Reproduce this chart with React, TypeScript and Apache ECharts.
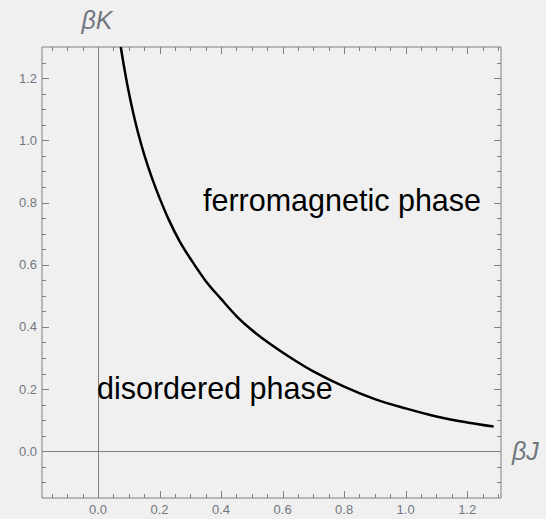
import React, { useEffect, useRef } from "react";
import * as echarts from "echarts";

// Critical line (βJ, βK)
const betaJ = [0.074, 0.085, 0.098, 0.114, 0.13, 0.15, 0.175, 0.2, 0.23, 0.265, 0.3, 0.35, 0.4, 0.45, 0.5, 0.56, 0.62, 0.7, 0.8, 0.9, 1.0, 1.1, 1.2, 1.286];
const betaK = [1.3, 1.235, 1.165, 1.09, 1.025, 0.955, 0.88, 0.815, 0.745, 0.676, 0.62, 0.548, 0.49, 0.435, 0.39, 0.345, 0.305, 0.257, 0.208, 0.168, 0.138, 0.112, 0.093, 0.08];

const majorTicks = [0, 0.2, 0.4, 0.6, 0.8, 1.0, 1.2];
const minorTicksX = [-0.15, -0.1, -0.05, 0, 0.05, 0.1, 0.15, 0.2, 0.25, 0.3, 0.35, 0.4, 0.45, 0.5, 0.55, 0.6, 0.65, 0.7, 0.75, 0.8, 0.85, 0.9, 0.95, 1.0, 1.05, 1.1, 1.15, 1.2, 1.25, 1.3];
const minorTicksY = [-0.1, -0.05, 0, 0.05, 0.1, 0.15, 0.2, 0.25, 0.3, 0.35, 0.4, 0.45, 0.5, 0.55, 0.6, 0.65, 0.7, 0.75, 0.8, 0.85, 0.9, 0.95, 1.0, 1.05, 1.1, 1.15, 1.2, 1.25];

const xLabel = "βJ";
const yLabel = "βK";
const phaseLabels = ["disordered phase", "ferromagnetic phase"];

const FRAME = "#808080";
const LABEL = "#737780";
const FONT = '"Liberation Sans", Arial, sans-serif';
const MAJOR_LEN = 7;
const MINOR_LEN = 4;

function axisOpt(min: number, max: number) {
  return {
    type: "value",
    min,
    max,
    axisLine: { show: false, onZero: false },
    splitLine: { show: false },
    axisTick: { show: false },
    axisLabel: {
      show: true,
      customValues: majorTicks,
      formatter: (v: number) => v.toFixed(1),
      color: LABEL,
      fontSize: 13,
      fontFamily: FONT,
      margin: 5,
    },
  };
}

export default function App() {
  const ref = useRef<HTMLDivElement>(null);
  useEffect(() => {
    if (!ref.current) return;
    const chart = echarts.init(ref.current, null, { renderer: "svg" });
    const xmin = -0.182, xmax = 1.31, ymin = -0.15, ymax = 1.3;
    const data = betaJ.map((x, i) => [x, betaK[i]]);
    const textGraphics = [
      { type: "text", x: 97, y: 388, z: 10, style: { text: phaseLabels[0], fill: "#000", fontSize: 30.5, fontFamily: FONT, verticalAlign: "middle", align: "left" } },
      { type: "text", x: 203, y: 200, z: 10, style: { text: phaseLabels[1], fill: "#000", fontSize: 30.5, fontFamily: FONT, verticalAlign: "middle", align: "left" } },
      { type: "text", x: 97, y: 20, style: { text: yLabel, fill: LABEL, fontSize: 25, fontStyle: "italic", fontFamily: FONT, verticalAlign: "middle", align: "center" } },
      { type: "text", x: 512, y: 451, style: { text: xLabel, fill: LABEL, fontSize: 25, fontStyle: "italic", fontFamily: FONT, verticalAlign: "middle", align: "left" } },
    ];
    chart.setOption({
      animation: false,
      backgroundColor: "#f0f0f0",
      grid: { left: 42, right: 45, top: 47, bottom: 21, show: true, borderColor: FRAME, borderWidth: 1, backgroundColor: "transparent" },
      xAxis: axisOpt(xmin, xmax),
      yAxis: axisOpt(ymin, ymax),
      series: [
        {
          type: "line",
          data,
          smooth: 0.35,
          showSymbol: false,
          clip: true,
          lineStyle: { color: "#000", width: 2.5 },
          markLine: {
            silent: true,
            symbol: ["none", "none"],
            label: { show: false },
            lineStyle: { color: FRAME, width: 1, type: "solid" },
            data: [{ xAxis: 0 }, { yAxis: 0 }],
          },
          z: 3,
        },
      ],
      graphic: textGraphics,
    });

    // frame ticks on all four sides, placed through the axes' scales
    const tl = chart.convertToPixel({ gridIndex: 0 }, [xmin, ymax]) as number[];
    const br = chart.convertToPixel({ gridIndex: 0 }, [xmax, ymin]) as number[];
    const left = tl[0], top = tl[1], right = br[0], bottom = br[1];
    const style = { stroke: FRAME, lineWidth: 1 };
    const ticks: any[] = [];
    minorTicksX.forEach((v) => {
      const x = Math.round((chart.convertToPixel({ gridIndex: 0 }, [v, 0]) as number[])[0]) + 0.5;
      const len = majorTicks.includes(v) ? MAJOR_LEN : MINOR_LEN;
      ticks.push({ type: "line", z: 5, silent: true, shape: { x1: x, y1: bottom, x2: x, y2: bottom - len }, style });
      ticks.push({ type: "line", z: 5, silent: true, shape: { x1: x, y1: top, x2: x, y2: top + len }, style });
    });
    minorTicksY.forEach((v) => {
      const y = Math.round((chart.convertToPixel({ gridIndex: 0 }, [0, v]) as number[])[1]) + 0.5;
      const len = majorTicks.includes(v) ? MAJOR_LEN : MINOR_LEN;
      ticks.push({ type: "line", z: 5, silent: true, shape: { x1: left, y1: y, x2: left + len, y2: y }, style });
      ticks.push({ type: "line", z: 5, silent: true, shape: { x1: right, y1: y, x2: right - len, y2: y }, style });
    });
    chart.setOption({ graphic: [...textGraphics, ...ticks] }, { replaceMerge: ["graphic"] });
    return () => chart.dispose();
  }, []);
  return <div ref={ref} style={{ position: "fixed", left: 0, top: 0, width: 546, height: 519 }} />;
}
